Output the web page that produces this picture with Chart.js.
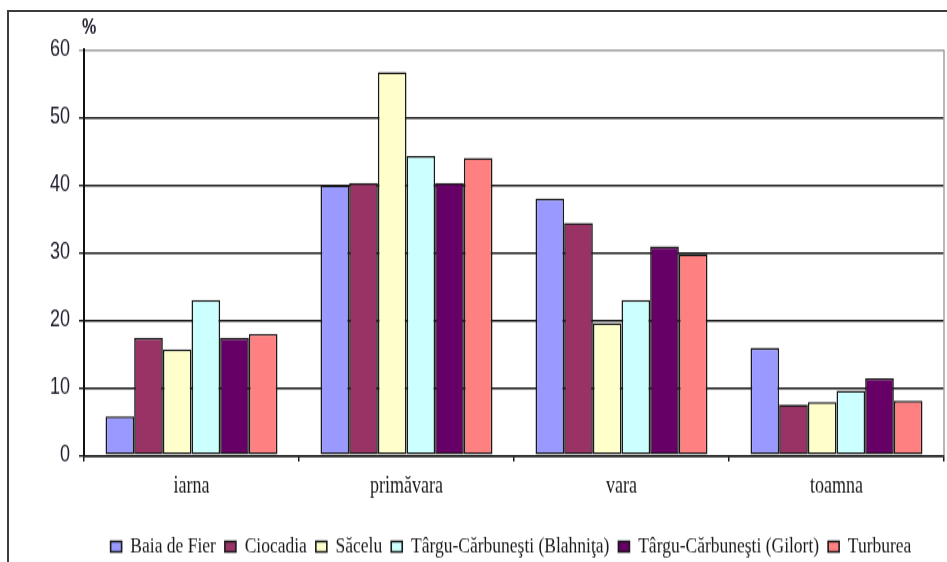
<!DOCTYPE html>
<html>
<head>
<meta charset="utf-8">
<script src="https://cdn.jsdelivr.net/npm/chart.js@4/dist/chart.umd.min.js"></script>
<style>
  html, body { margin: 0; padding: 0; background: #fff; overflow: hidden; }
  #frame {
    position: absolute; left: 7px; top: 10px; width: 1000px; height: 700px;
    border-left: 2px solid #3c3c3c; border-top: 2px solid #3c3c3c;
  }
  #wrap {
    position: absolute; left: 0; top: 0; width: 947px; height: 442px;
    transform: scaleY(1.3); transform-origin: 0 0;
  }
</style>
</head>
<body>
<div id="frame"></div>
<div id="wrap"><canvas id="c"></canvas></div>
<script>
// Seasonal share of precipitation (%) per station
const seasons = ['iarna', 'primăvara', 'vara', 'toamna'];
const stations = [
  'Baia de Fier',
  'Ciocadia',
  'Săcelu',
  'Târgu-Cărbuneşti (Blahniţa)',
  'Târgu-Cărbuneşti (Gilort)',
  'Turburea'
];
const baiaDeFier = [5.8, 40.0, 38.0, 15.9];
const ciocadia   = [17.4, 40.3, 34.4, 7.5];
const sacelu     = [15.7, 56.7, 19.6, 7.9];
const blahnita   = [23.0, 44.3, 23.0, 9.6];
const gilort     = [17.4, 40.3, 30.9, 11.4];
const turburea   = [18.0, 44.0, 29.8, 8.1];
const yTicks = [0, 10, 20, 30, 40, 50, 60];

const seriesValues = [baiaDeFier, ciocadia, sacelu, blahnita, gilort, turburea];
const fills = ['#9999FF', '#993366', '#FFFFCC', '#CCFFFF', '#660066', '#FF8080'];

const datasets = stations.map((name, i) => ({
  label: name,
  data: seriesValues[i],
  backgroundColor: fills[i],
  borderColor: '#1a1a1a',
  borderWidth: 1.6,
  borderSkipped: false,
  categoryPercentage: 0.8,
  barPercentage: 1.0
}));

// gray frame on the right side of the plot area
const plotFrame = {
  id: 'plotFrame',
  afterDatasetsDraw(chart) {
    const a = chart.chartArea, ctx = chart.ctx;
    ctx.save();
    ctx.strokeStyle = '#a0a0a0';
    ctx.lineWidth = 1.5;
    ctx.beginPath();
    ctx.moveTo(a.right, a.top);
    ctx.lineTo(a.right, a.bottom);
    ctx.stroke();
    ctx.restore();
  }
};

// legend and "%" title start near the plot's left edge rather than the canvas edge
const blockOffset = {
  id: 'blockOffset',
  afterLayout(chart) {
    if (chart.legend) chart.legend.left = 78;
    if (chart.titleBlock) chart.titleBlock.left = 82;
  }
};

new Chart(document.getElementById('c'), {
  type: 'bar',
  data: { labels: seasons, datasets },
  plugins: [plotFrame, blockOffset],
  options: {
    responsive: true,
    maintainAspectRatio: false,
    animation: false,
    devicePixelRatio: 1,
    layout: { padding: { left: 0, right: 3, top: 0, bottom: 2.7 } },
    plugins: {
      tooltip: { enabled: false },
      title: {
        display: true,
        text: '%',
        align: 'start',
        color: '#202030',
        font: { family: 'Liberation Sans', size: 16 },
        padding: { top: 12.3, bottom: 6.8 }
      },
      legend: {
        position: 'bottom',
        align: 'center',
        labels: {
          font: { family: 'Liberation Serif', size: 17.5 },
          color: '#1a1a1a',
          boxWidth: 11,
          boxHeight: 8,
          padding: 9
        }
      }
    },
    scales: {
      x: {
        offset: true,
        grid: {
          offset: true,
          drawOnChartArea: false,
          drawTicks: true,
          tickLength: 4.6,
          color: '#1a1a1a',
          lineWidth: 1.5
        },
        border: { color: '#1a1a1a', width: 1.5 },
        ticks: {
          color: '#1a1a1a',
          font: { family: 'Liberation Serif', size: 18 },
          padding: 8.2,
          maxRotation: 0
        },
        afterFit(scale) { scale.height = 52.5; }
      },
      y: {
        min: yTicks[0],
        max: yTicks[yTicks.length - 1],
        afterBuildTicks(scale) { scale.ticks = yTicks.map(v => ({ value: v })); },
        grid: {
          color: ctx => (ctx.tick && ctx.tick.value === yTicks[yTicks.length - 1]) ? '#a0a0a0' : '#1a1a1a',
          lineWidth: 1.4,
          drawTicks: true,
          tickLength: 5
        },
        border: { color: '#111', width: 2 },
        ticks: {
          color: '#202030',
          font: { family: 'Liberation Sans', size: 18 },
          padding: 9
        },
        afterFit(scale) { scale.width = 84; }
      }
    }
  }
});
</script>
</body>
</html>
